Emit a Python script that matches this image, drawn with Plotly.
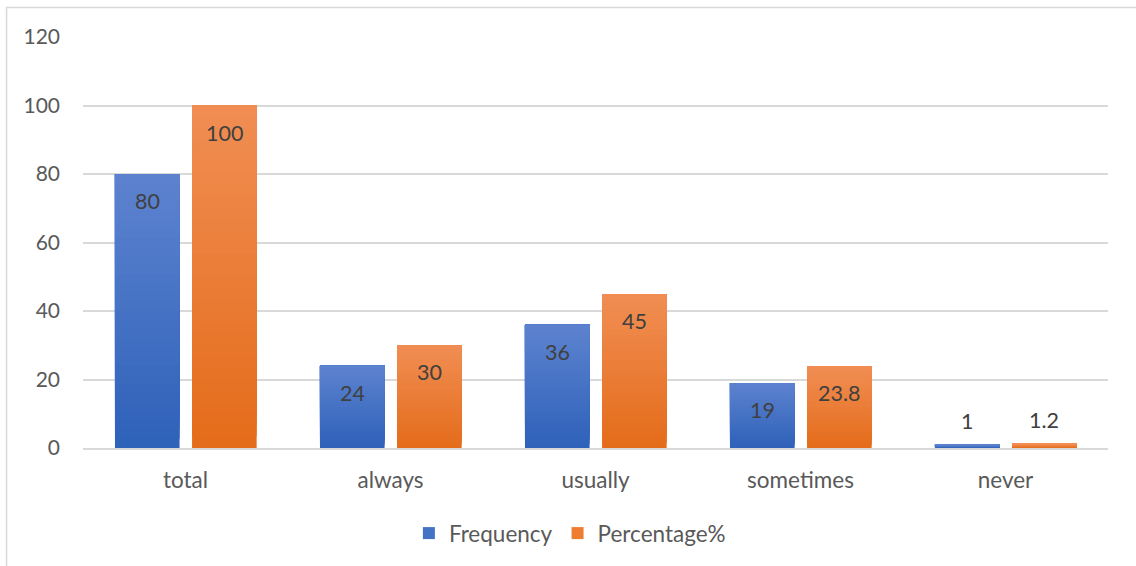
import plotly.graph_objects as go

categories = ["total", "always", "usually", "sometimes", "never"]
frequency = [80, 24, 36, 19, 1]
percentage = [100, 30, 45, 23.8, 1.2]
freq_labels = ["80", "24", "36", "19", "1"]
pct_labels = ["100", "30", "45", "23.8", "1.2"]
y_ticks = [0, 20, 40, 60, 80, 100, 120]

FONT = "Lato"
BAR_W = 0.315
OFFSETS = {"Frequency": -0.344, "Percentage%": 0.032}
# gradient: (top colour, bottom colour)
GRAD = {"Frequency": ((93, 131, 207), (46, 97, 185)),
        "Percentage%": ((241, 142, 84), (228, 108, 26))}
MID = {"Frequency": "#4472C4", "Percentage%": "#ED7D31"}
N = 30

fig = go.Figure()

def mix(c_top, c_bot, t):
    # t=0 bottom, t=1 top
    return "rgb(%d,%d,%d)" % tuple(round(b + (a - b) * t) for a, b in zip(c_top, c_bot))

for name, vals in (("Frequency", frequency), ("Percentage%", percentage)):
    top, bot = GRAD[name]
    for k in range(N):
        frac = k / N
        fig.add_trace(go.Bar(
            x=categories,
            y=[v * (1 - frac) for v in vals],
            base=[v * frac for v in vals],
            width=BAR_W, offset=OFFSETS[name],
            marker=dict(color=mix(top, bot, (k + 0.5) / N), line=dict(width=0)),
            showlegend=False, hoverinfo="skip", name=name,
        ))
    fig.add_trace(go.Bar(
        x=[None], y=[None], name=name,
        marker=dict(color=MID[name], line=dict(width=0)),
        showlegend=True,
    ))

annotations = []
for name, vals, labels in (("Frequency", frequency, freq_labels),
                           ("Percentage%", percentage, pct_labels)):
    xs = (OFFSETS[name] + BAR_W / 2) * 205
    for c, v, lab in zip(categories, vals, labels):
        inside = v * 412 / 120 > 45
        annotations.append(dict(
            x=c, y=v, xref="x", yref="y", text=lab, showarrow=False,
            xshift=xs, yshift=-27 if inside else 24,
            font=dict(family=FONT, size=21.5, color="#404040"),
        ))

fig.update_layout(
    width=1136, height=566,
    margin=dict(l=83, r=28, t=37, b=117),
    paper_bgcolor="white", plot_bgcolor="white",
    barmode="overlay",
    font=dict(family=FONT, size=22.5, color="#595959"),
    annotations=annotations,
    legend=dict(orientation="h", x=0.475, xanchor="center", y=-0.205, yanchor="middle",
                font=dict(family=FONT, size=22.5, color="#595959"),
                itemwidth=30, traceorder="normal"),
    shapes=[dict(type="rect", xref="paper", yref="paper",
                 x0=-0.0746, x1=1.2, y0=-0.6, y1=1.0716,
                 line=dict(color="#D9D9D9", width=1.5), fillcolor="rgba(0,0,0,0)",
                 layer="below")],
)
fig.update_xaxes(
    type="category", showgrid=False, showline=True, linecolor="#D9D9D9", linewidth=1.5,
    ticks="", ticklabelstandoff=11,
    tickfont=dict(family=FONT, size=22.5, color="#595959"),
)
fig.update_yaxes(
    range=[0, 120], tickvals=y_ticks, showgrid=True, gridcolor="#D9D9D9", gridwidth=1.5,
    zeroline=False, showline=False, ticks="", ticklabelstandoff=22,
    tickfont=dict(family=FONT, size=21, color="#595959"),
)

fig.write_html("out.html")
